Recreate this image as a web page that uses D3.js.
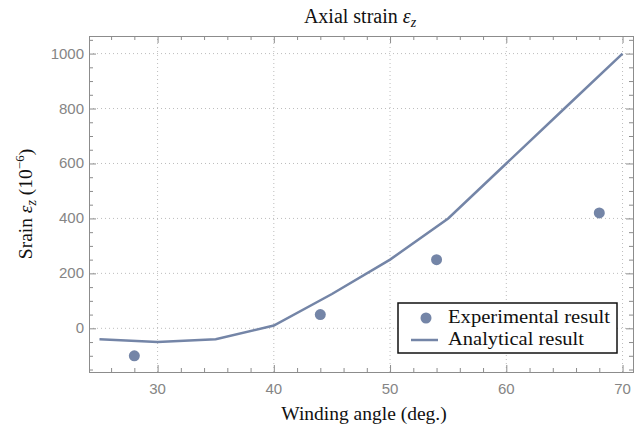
<!DOCTYPE html>
<html>
<head>
<meta charset="utf-8">
<script src="https://cdn.jsdelivr.net/npm/d3@7"></script>
<style>
  body { margin: 0; background: #fff; }
  .serif { font-family: "Liberation Serif", "Times New Roman", serif; fill: #111; }
  .tick text { font-family: "Liberation Sans", Arial, sans-serif; font-size: 15px; fill: #858585; }
</style>
</head>
<body>
<script>
// data
var angles = [25, 30, 35, 40, 45, 50, 55, 60, 65, 70];
var analytical = [-40, -50, -40, 10, 125, 250, 400, 600, 800, 1000];
var expAngles = [28, 44, 54, 68];
var experimental = [-100, 50, 250, 420];
var xTicks = [30, 40, 50, 60, 70];
var yTicks = [0, 200, 400, 600, 800, 1000];

var w = 644, h = 433;
var margin = {top: 36, right: 11, bottom: 61, left: 89};
var color = "#7485a7";

var x = d3.scaleLinear().domain([24.1, 70.9]).range([margin.left, w - margin.right]);
var y = d3.scaleLinear().domain([-159, 1064]).range([h - margin.bottom, margin.top]);

var svg = d3.select("body").append("svg")
  .attr("width", w)
  .attr("height", h);

//grid lines
svg.append("g").selectAll("line")
  .data(xTicks).enter().append("line")
  .attr("x1", function(d) { return x(d); })
  .attr("x2", function(d) { return x(d); })
  .attr("y1", y.range()[0]).attr("y2", y.range()[1])
  .attr("stroke", "#bdbdbd").attr("stroke-dasharray", "1,3");
svg.append("g").selectAll("line")
  .data(yTicks).enter().append("line")
  .attr("y1", function(d) { return y(d); })
  .attr("y2", function(d) { return y(d); })
  .attr("x1", x.range()[0]).attr("x2", x.range()[1])
  .attr("stroke", "#bdbdbd").attr("stroke-dasharray", "1,3");

// minor + major ticks, pointing inward on all four sides
var xMinor = d3.range(26, 71, 2).filter(function(d) { return d % 10 != 0; });
var yMinor = d3.range(-150, 1051, 50).filter(function(d) { return d % 200 != 0; });

function frameAxis(axis, major, minor, transform) {
  var gMinor = svg.append("g").attr("transform", transform)
    .call(axis.tickValues(minor).tickSize(-4).tickFormat(""));
  var gMajor = svg.append("g").attr("transform", transform)
    .call(axis.tickValues(major).tickSize(-7).tickFormat(""));
  [gMinor, gMajor].forEach(function(g) {
    g.select(".domain").attr("stroke", "#8c8c8c");
    g.selectAll(".tick line").attr("stroke", "#8c8c8c");
  });
  return gMajor;
}

frameAxis(d3.axisBottom(x), xTicks, xMinor, "translate(0," + y.range()[0] + ")");
frameAxis(d3.axisTop(x), xTicks, xMinor, "translate(0," + y.range()[1] + ")");
frameAxis(d3.axisLeft(y), yTicks, yMinor, "translate(" + x.range()[0] + ",0)");
frameAxis(d3.axisRight(y), yTicks, yMinor, "translate(" + x.range()[1] + ",0)");

// tick labels
svg.append("g").attr("class", "tick").selectAll("text")
  .data(xTicks).enter().append("text")
  .attr("x", function(d) { return x(d); })
  .attr("y", y.range()[0] + 22)
  .attr("text-anchor", "middle")
  .text(function(d) { return d; });
svg.append("g").attr("class", "tick").selectAll("text")
  .data(yTicks).enter().append("text")
  .attr("x", x.range()[0] - 5)
  .attr("y", function(d) { return y(d) + 5; })
  .attr("text-anchor", "end")
  .text(function(d) { return d; });

// analytical line
var line = d3.line()
  .x(function(d, i) { return x(angles[i]); })
  .y(function(d) { return y(d); });
svg.append("path")
  .datum(analytical)
  .attr("d", line)
  .attr("fill", "none")
  .attr("stroke", color)
  .attr("stroke-width", 2.5);

// experimental points
svg.selectAll("circle.exp")
  .data(experimental).enter().append("circle")
  .attr("class", "exp")
  .attr("cx", function(d, i) { return x(expAngles[i]); })
  .attr("cy", function(d) { return y(d); })
  .attr("r", 5.5)
  .attr("fill", color);

// title
var title = svg.append("text").attr("class", "serif")
  .attr("x", 360).attr("y", 23)
  .attr("text-anchor", "middle").attr("font-size", 20);
title.append("tspan").text("Axial strain ");
title.append("tspan").attr("font-style", "italic").text("ε");
title.append("tspan").attr("font-style", "italic").attr("font-size", 14).attr("dy", 4).text("z");

// x label
svg.append("text").attr("class", "serif")
  .attr("x", 364).attr("y", 420)
  .attr("text-anchor", "middle").attr("font-size", 19.5)
  .text("Winding angle (deg.)");

// y label
var ylab = svg.append("text").attr("class", "serif")
  .attr("transform", "translate(32," + (y.range()[0] + y.range()[1]) / 2 + ") rotate(-90)")
  .attr("text-anchor", "middle").attr("font-size", 19.5);
ylab.append("tspan").text("Srain ");
ylab.append("tspan").attr("font-style", "italic").text("ε");
ylab.append("tspan").attr("font-style", "italic").attr("font-size", 14).attr("dy", 4).text("z");
ylab.append("tspan").attr("dy", -4).text(" (10");
ylab.append("tspan").attr("font-size", 13).attr("dy", -8).text("−6");
ylab.append("tspan").attr("dy", 8).text(")");

// legend
var leg = svg.append("g").attr("transform", "translate(398,303)");
leg.append("rect")
  .attr("width", 219).attr("height", 50)
  .attr("fill", "#fff").attr("stroke", "#111").attr("stroke-width", 1.5);
leg.append("circle").attr("cx", 28).attr("cy", 15).attr("r", 5.5).attr("fill", color);
leg.append("line").attr("x1", 13).attr("x2", 40).attr("y1", 37).attr("y2", 37)
  .attr("stroke", color).attr("stroke-width", 2.5);
leg.append("text").attr("class", "serif").attr("x", 50).attr("y", 20)
  .attr("font-size", 19).attr("textLength", 162).attr("lengthAdjust", "spacingAndGlyphs")
  .text("Experimental result");
leg.append("text").attr("class", "serif").attr("x", 50).attr("y", 42)
  .attr("font-size", 19).attr("textLength", 136).attr("lengthAdjust", "spacingAndGlyphs")
  .text("Analytical result");
</script>
</body>
</html>
